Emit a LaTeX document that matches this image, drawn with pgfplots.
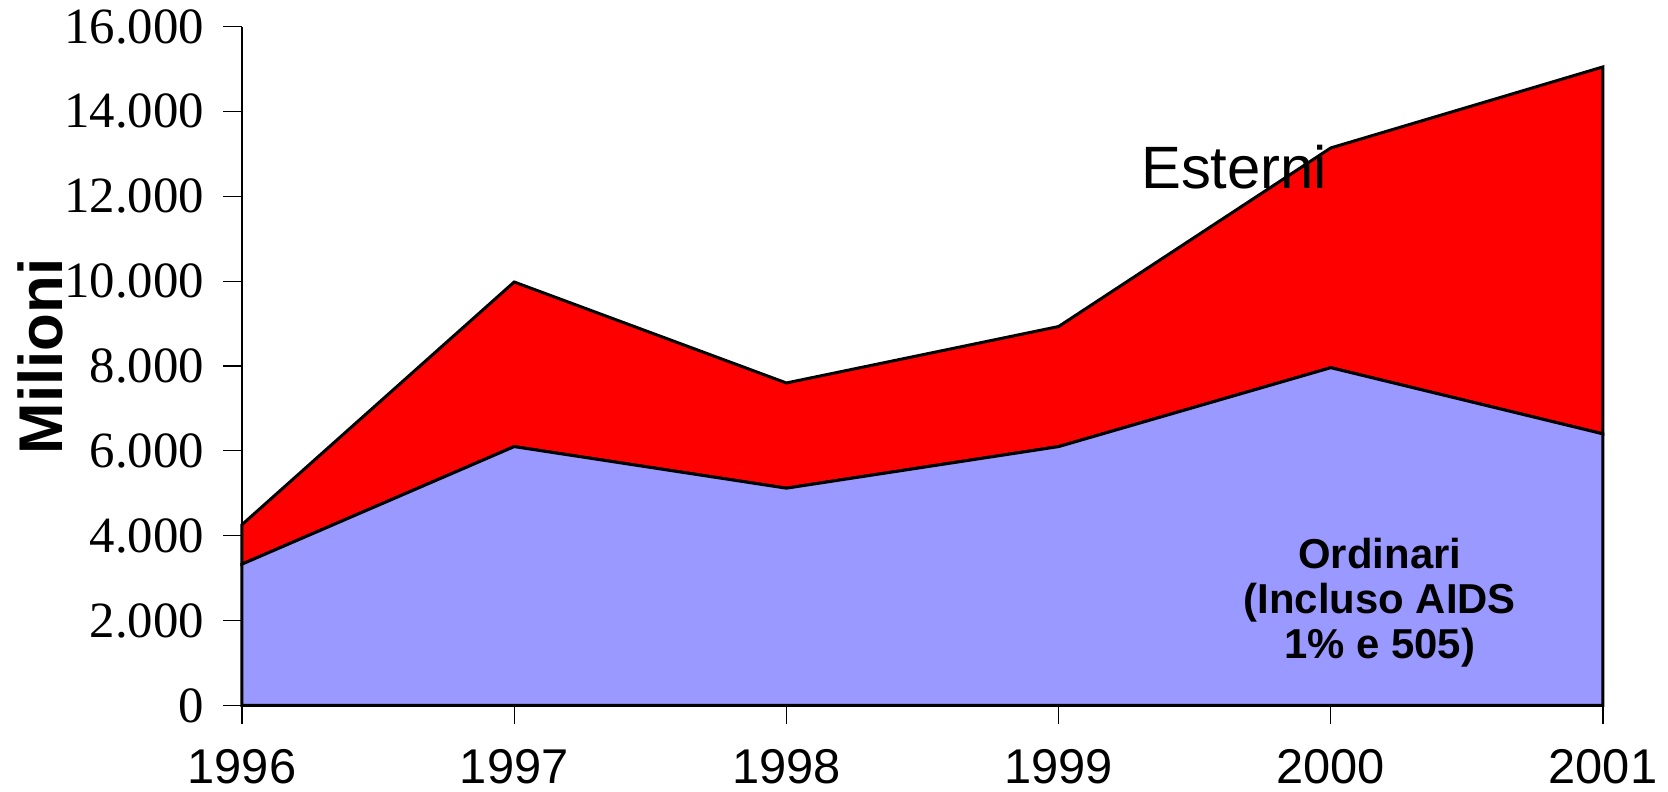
\documentclass[border=0pt]{standalone}
\usepackage{pgfplots}
\pgfplotsset{compat=1.18}
\usepackage{fontspec}
\setmainfont{Liberation Serif}
\newfontfamily\arial{Liberation Sans}
\definecolor{lav}{HTML}{9999FF}
\definecolor{rosso}{HTML}{FF0000}
\begin{document}
\begin{tikzpicture}
\useasboundingbox (-121bp,-43.3bp) rectangle (713bp,352.7bp);
\begin{axis}[
  scale only axis, width=680.5bp, height=339.4bp,
  at={(0,0)}, anchor=origin,
  xmin=1996, xmax=2001, ymin=0, ymax=16000,
  axis x line=bottom, axis y line=left,
  axis line style={-, black, line width=0.6bp},
  stack plots=y,
  scaled y ticks=false,
  xtick={1996,1997,1998,1999,2000,2001},
  ytick={0,2000,4000,6000,8000,10000,12000,14000,16000},
  tick align=outside, major tick length=9.5bp,
  tick style={black, line width=0.6bp},
  xticklabel style={font=\arial\fontsize{24.5}{26}\selectfont, /pgf/number format/1000 sep={}, /pgf/number format/assume math mode=true, yshift=-9bp},
  yticklabel style={font=\fontsize{25.5}{27}\selectfont, /pgf/number format/1000 sep={.}, /pgf/number format/assume math mode=true, xshift=-6bp},
  ylabel={Milioni},
  ylabel style={font=\arial\bfseries\fontsize{31}{33}\selectfont, at={(axis description cs:-0.148,0.514)}, anchor=center},
  clip=false,
]
\addplot[fill=lav, draw=black, line width=1.5bp] coordinates {
(1996,3330) (1997,6100) (1998,5120) (1999,6100) (2000,7960) (2001,6400)
} \closedcycle;
\addplot[fill=rosso, draw=black, line width=1.5bp] coordinates {
(1996,930) (1997,3880) (1998,2480) (1999,2830) (2000,5180) (2001,8650)
} \closedcycle;
\coordinate (E) at (axis cs:1999.645,12690);
\coordinate (O) at (axis cs:2000.18,2430);
\end{axis}
\node[font=\arial\fontsize{30}{32}\selectfont] at (E) {Esterni};
\node[font=\arial\bfseries\fontsize{21}{22.6}\selectfont, align=center] at (O) {Ordinari\\(Incluso AIDS\\1\% e 505)};
\end{tikzpicture}
\end{document}
